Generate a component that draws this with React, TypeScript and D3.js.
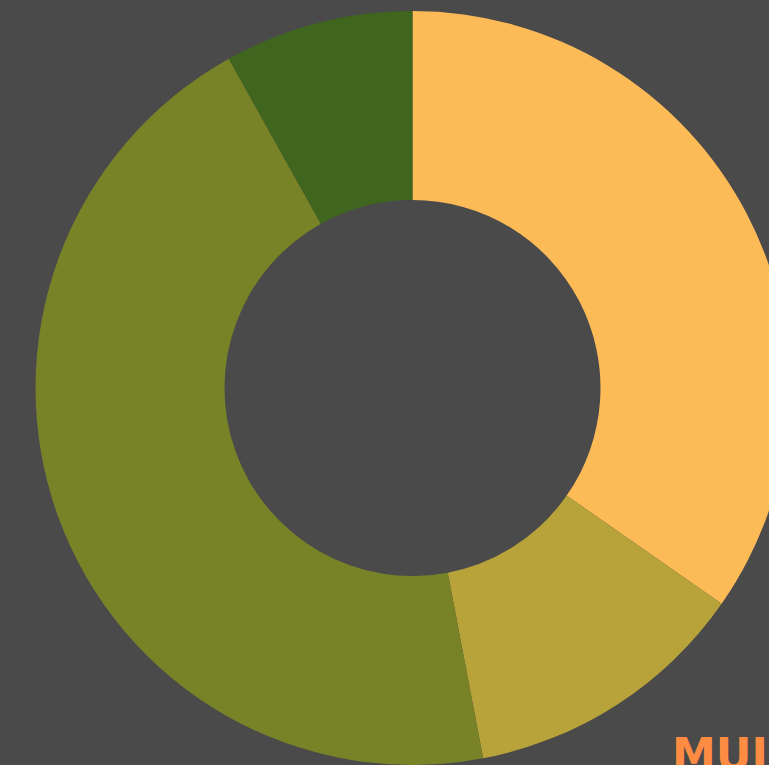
import React from "react";
import * as d3 from "d3";

const categories = ["A", "B", "C", "D"];
const values = [34.7, 12.3, 44.9, 8.1];
const colors = ["#FDBB58", "#B8A23A", "#788227", "#3F651E"];
const label = "MUJER";

export default function App() {
  const W = 769, H = 765;
  const cx = 412.5, cy = 388;
  const outer = 377, inner = 188;
  const data = categories.map((c, i) => ({ c, v: values[i] }));
  const pie = d3.pie<any>().value((d) => d.v).sort(null);
  const arc = d3.arc<any>().innerRadius(inner).outerRadius(outer);
  const arcs = pie(data);
  return (
    <svg width={W} height={H} style={{ position: "absolute", left: 0, top: 0, display: "block", background: "#4A4A4A" }}>
      <rect width={W} height={H} fill="#4A4A4A" />
      <g transform={`translate(${cx},${cy})`}>
        {arcs.map((a, i) => (
          <path key={i} d={arc(a) as string} fill={colors[i]} />
        ))}
      </g>
      <text x={672} y={770} fill="#FF8C42" fontFamily="'DejaVu Sans', sans-serif" fontWeight={700} fontSize={44}>
        {label}
      </text>
    </svg>
  );
}
